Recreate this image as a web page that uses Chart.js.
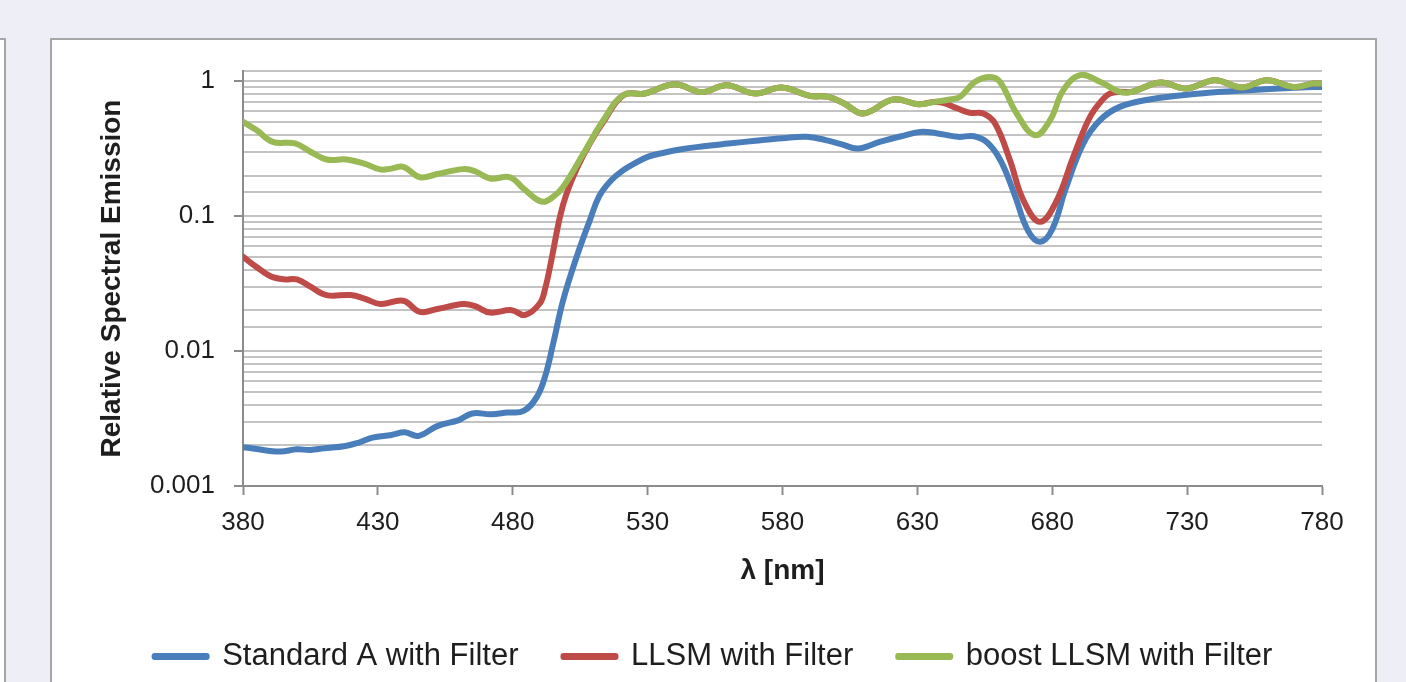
<!DOCTYPE html>
<html>
<head>
<meta charset="utf-8">
<script src="https://cdn.jsdelivr.net/npm/chart.js@4.4.1/dist/chart.umd.min.js"></script>
<style>
  html, body { margin: 0; padding: 0; }
  body { width: 1406px; height: 682px; background: #eeeef6; position: relative; overflow: hidden; }
  #leftPanel { position: absolute; left: -20px; top: 38px; width: 22px; height: 700px; background: #fff; border: 2px solid #a6a6a6; }
  #panel { position: absolute; left: 50px; top: 38px; width: 1323px; height: 700px; background: #fff; border: 2px solid #a6a6a6; }
  #chart { position: absolute; left: 0; top: 0; }
</style>
</head>
<body>
<div id="leftPanel"></div>
<div id="panel"><canvas id="chart" width="1323" height="642"></canvas></div>
<script>
// Relative spectral emission, log scale

const seriesNames = ['Standard A with Filter', 'LLSM with Filter', 'boost LLSM with Filter'];
const seriesColors = ['#4a7ebb', '#be4b48', '#98b954'];

const xTicks = [380, 430, 480, 530, 580, 630, 680, 730, 780];
const yMajorTicks = [0.001, 0.01, 0.1, 1];
const yMajorLabels = ['0.001', '0.01', '0.1', '1'];

const blueNm = [380, 385, 390, 394, 400, 405, 410, 418, 423, 428, 435, 440, 445, 452, 460, 465, 472, 478, 484,
  489, 492, 495, 498.7, 503.7, 508.6, 512, 516, 521, 525, 530, 536, 542, 550, 560, 570, 580, 589, 596, 602,
  608, 616, 624, 631, 637, 645, 651, 656, 661, 666, 671, 675.5, 680, 685, 691.5, 697.7, 705, 716, 735, 753, 772, 780];
const blueVal = [0.00194, 0.00188, 0.00182, 0.0018, 0.00187, 0.00185, 0.0019, 0.00198, 0.0021, 0.00228, 0.00239,
  0.0025, 0.00235, 0.00278, 0.00308, 0.00345, 0.0034, 0.0035, 0.0036,
  0.0046, 0.0065, 0.0114, 0.0239, 0.05, 0.0934, 0.14, 0.18, 0.219, 0.245, 0.275, 0.295, 0.312, 0.328, 0.345, 0.362,
  0.378, 0.387, 0.366, 0.34, 0.317, 0.355, 0.391, 0.421, 0.412, 0.387, 0.391, 0.35, 0.255, 0.145, 0.078, 0.0645,
  0.08, 0.16, 0.345, 0.514, 0.645, 0.732, 0.81, 0.858, 0.898, 0.907];

const redNm = [380, 385, 390, 395, 400, 405, 411, 420, 425, 431, 439.4, 445.6, 452, 461.7, 466, 471.6, 479.6, 484.5,
  490, 492, 494.3, 497.5, 500, 504, 508.6, 513.6, 521, 529, 540, 550, 559.3, 569.8, 579.7, 590.2, 597, 603, 610,
  621, 630.3, 636, 639.6, 645, 649.5, 654.4, 658.8, 664.3, 669.3, 675.5, 681.7, 687.8, 694, 698.9, 701.4, 705,
  709.5, 720, 729.8, 740.3, 750.2, 759.5, 769.4, 776.8, 780];
const redVal = [0.05, 0.042, 0.036, 0.034, 0.034, 0.03, 0.026, 0.026, 0.0245, 0.0223, 0.0236, 0.0195, 0.0205, 0.0223,
  0.0215, 0.0193, 0.0201, 0.0185, 0.0225, 0.029, 0.047, 0.099, 0.148, 0.231, 0.347, 0.5, 0.788, 0.81, 0.95, 0.83,
  0.934, 0.81, 0.898, 0.778, 0.765, 0.68, 0.576, 0.732, 0.675, 0.70, 0.69, 0.627, 0.583, 0.576, 0.486, 0.26, 0.131,
  0.0907, 0.131, 0.275, 0.544, 0.74, 0.81, 0.833, 0.833, 0.978, 0.883, 1.017, 0.898, 1.017, 0.907, 0.96, 0.96];

const greenNm = [380, 385, 391, 399.3, 405, 411, 418.4, 425, 430.8, 435, 439.4, 445.6, 452, 461.7, 466, 471.6, 479,
  484, 490.7, 495, 498.7, 506.2, 513.6, 521, 529, 540, 550, 559.3, 569.8, 579.7, 590.2, 597, 603, 610, 621, 630.3,
  636, 642, 645.8, 651.4, 657, 660.6, 666.8, 673.6, 679.2, 684.1, 690.3, 697.7, 705.1, 709.5, 720, 729.8, 740.3,
  750.2, 759.5, 769.4, 776.8, 780];
const greenVal = [0.5, 0.434, 0.355, 0.346, 0.30, 0.263, 0.263, 0.245, 0.222, 0.225, 0.232, 0.194, 0.205, 0.223,
  0.215, 0.19, 0.194, 0.16, 0.128, 0.139, 0.165, 0.291, 0.514, 0.788, 0.81, 0.95, 0.83, 0.934, 0.81, 0.898, 0.778,
  0.765, 0.68, 0.576, 0.732, 0.675, 0.70, 0.732, 0.765, 0.99, 1.076, 0.99, 0.576, 0.398, 0.514, 0.858, 1.108, 0.99,
  0.833, 0.833, 0.978, 0.883, 1.017, 0.898, 1.017, 0.907, 0.96, 0.96];

const FONT = '"Liberation Sans", Arial, sans-serif';
const TEXT = '#1e1e1e';

function toPoints(xs, ys) {
  return xs.map((x, i) => ({ x: x, y: ys[i] }));
}

function majorIndex(v) {
  return yMajorTicks.findIndex(m => Math.abs(Math.log10(v) - Math.log10(m)) < 1e-6);
}

const allNm = [blueNm, redNm, greenNm];
const allVal = [blueVal, redVal, greenVal];

// green drawn on top, then red, then blue
const datasets = seriesNames.map((name, i) => ({
  label: name,
  data: toPoints(allNm[i], allVal[i]),
  borderColor: seriesColors[i],
  backgroundColor: seriesColors[i],
  borderWidth: 6,
  pointRadius: 0,
  tension: 0.4,
  borderCapStyle: 'round',
  borderJoinStyle: 'round',
  order: 3 - i
}));

new Chart(document.getElementById('chart'), {
  type: 'line',
  data: { datasets: datasets },
  options: {
    responsive: false,
    animation: false,
    layout: {
      padding: { top: 31, right: 0, left: 0, bottom: 0 }
    },
    plugins: {
      tooltip: { enabled: false },
      legend: {
        position: 'bottom',
        labels: {
          boxWidth: 52,
          boxHeight: 1,
          padding: 45,
          color: TEXT,
          font: { family: FONT, size: 31 },
          sort: (a, b) => a.datasetIndex - b.datasetIndex
        }
      }
    },
    scales: {
      x: {
        type: 'linear',
        min: 380,
        max: 780,
        afterBuildTicks: axis => { axis.ticks = xTicks.map(v => ({ value: v })); },
        afterFit: axis => {
          axis.height = 110;
          axis.paddingRight = 53; // margin right of the plot, legend stays centred on the panel
        },
        border: { display: true, color: '#8c8c8c', width: 2 },
        grid: {
          drawOnChartArea: false,
          drawTicks: true,
          tickLength: 9,
          tickColor: '#8c8c8c',
          tickWidth: 2
        },
        ticks: {
          padding: 12,
          maxRotation: 0,
          color: TEXT,
          font: { family: FONT, size: 26 }
        },
        title: {
          display: true,
          text: 'λ [nm]',
          color: TEXT,
          padding: { top: 0, bottom: 8 },
          font: { family: FONT, size: 28, weight: 'bold' }
        }
      },
      y: {
        type: 'logarithmic',
        min: 0.001,
        max: 1.19,
        afterFit: axis => {
          axis.width = 191;
          axis.paddingTop = 0;
          axis.paddingBottom = 0;
        },
        border: { display: true, color: '#8c8c8c', width: 2 },
        grid: {
          color: '#c3c3c3',
          lineWidth: 2,
          drawTicks: true,
          tickLength: 9,
          tickWidth: 2,
          tickColor: ctx => (ctx.tick && majorIndex(ctx.tick.value) >= 0) ? '#8c8c8c' : 'rgba(0,0,0,0)'
        },
        ticks: {
          autoSkip: false,
          padding: 19,
          color: TEXT,
          font: { family: FONT, size: 26 },
          callback: function (value) {
            const idx = majorIndex(value);
            return idx >= 0 ? yMajorLabels[idx] : '';
          }
        },
        title: {
          display: true,
          text: 'Relative Spectral Emission',
          color: TEXT,
          padding: { top: 43, bottom: 0 },
          font: { family: FONT, size: 28, weight: 'bold' }
        }
      }
    }
  }
});
</script>
</body>
</html>
